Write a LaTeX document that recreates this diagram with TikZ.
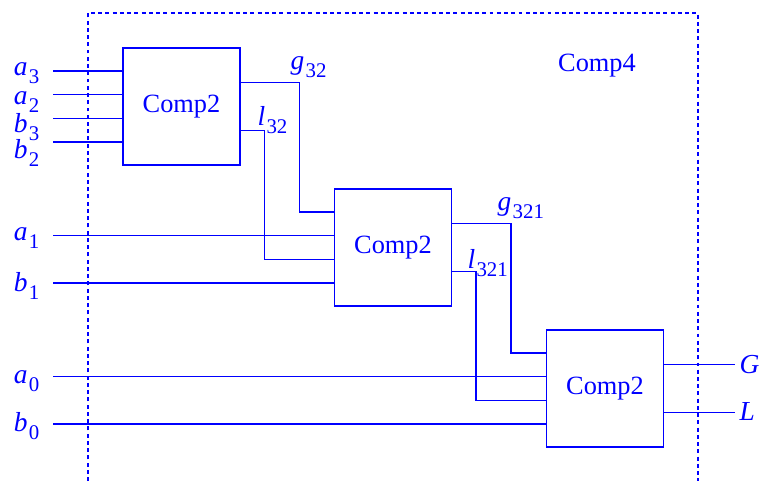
\documentclass[tikz,border=0pt]{standalone}
\usepackage{fontspec}
\setmainfont{Liberation Serif}
\usetikzlibrary{positioning,calc}
\definecolor{CircBlue}{RGB}{0,0,255}
\newcommand{\sig}[2]{\textit{#1}\kern0.6pt\raisebox{-0.7ex}{\fontsize{9.5}{11}\selectfont #2}}

\begin{document}
\begin{tikzpicture}[x=0.016cm, y=-0.016cm, line width=0.55pt, CircBlue,
  every node/.style={text=CircBlue, font=\fontsize{12}{14}\selectfont},
  comp/.style={draw, minimum size=1.872cm, inner sep=0pt},
  lbl/.style={font=\fontsize{12.5}{14}\selectfont, inner sep=0pt}]
  \useasboundingbox (0,0) rectangle (759,481);

  % outer block
  \draw[dash pattern=on 1.8pt off 1.5pt] (88,481) -- (88,13) -- (698,13) -- (698,481);
  \node (comp4) at (597,66) {Comp4};

  \node[comp] (c1) at (181.5,106.5) {Comp2};
  \node[comp] (c2) at (393,247.5) {Comp2};
  \node[comp] (c3) at (605,388.5) {Comp2};

  % ports on each block
  \foreach \b in {1,2,3}{
    \foreach \p/\f in {1/.2,2/.4,3/.6,4/.8}
      \coordinate (c\b-in\p) at ($(c\b.north west)!\f!(c\b.south west)$);
    \coordinate (c\b-out1) at ($(c\b.north east)!.3!(c\b.south east)$);
    \coordinate (c\b-out2) at ($(c\b.north east)!.7!(c\b.south east)$);
  }

  % inputs
  \coordinate (wstart) at (53,0);
  \foreach \lt/\ix/\bx/\pt/\yb in {a/3/1/1/75, a/2/1/2/104, b/3/1/3/132, b/2/1/4/158,
      a/1/2/2/240, b/1/2/4/291, a/0/3/2/383, b/0/3/4/431}{
    \coordinate (in-\lt\ix) at (wstart |- c\bx-in\pt);
    \node[lbl, anchor=base east] (lab-\lt\ix) at (40,\yb) {\sig{\lt}{\ix}};
    \draw (in-\lt\ix) -- (c\bx-in\pt);
  }

  % g and l between stages
  \foreach \b/\n in {1/2, 2/3}{
    \draw (c\b-out1) -- ++(59,0) |- (c\n-in1);
    \draw (c\b-out2) -- ++(24,0) |- (c\n-in3);
  }
  \node[lbl, anchor=base west] (g32) at (290,69) {\sig{g}{32}};
  \node[lbl, anchor=base west] (l32) at (257,125) {\sig{l}{32}};
  \node[lbl, anchor=base west] (g321) at (497,210) {\sig{g}{321}};
  \node[lbl, anchor=base west] (l321) at (467,268) {\sig{l}{321}};

  % outputs
  \coordinate (wend) at (735,0);
  \foreach \o/\nm/\yb in {1/G/373, 2/L/420}{
    \coordinate (out-\nm) at (wend |- c3-out\o);
    \draw (c3-out\o) -- (out-\nm);
    \node[lbl, anchor=base west] (lab-\nm) at (739,\yb) {\textit{\nm}};
  }
\end{tikzpicture}
\end{document}
